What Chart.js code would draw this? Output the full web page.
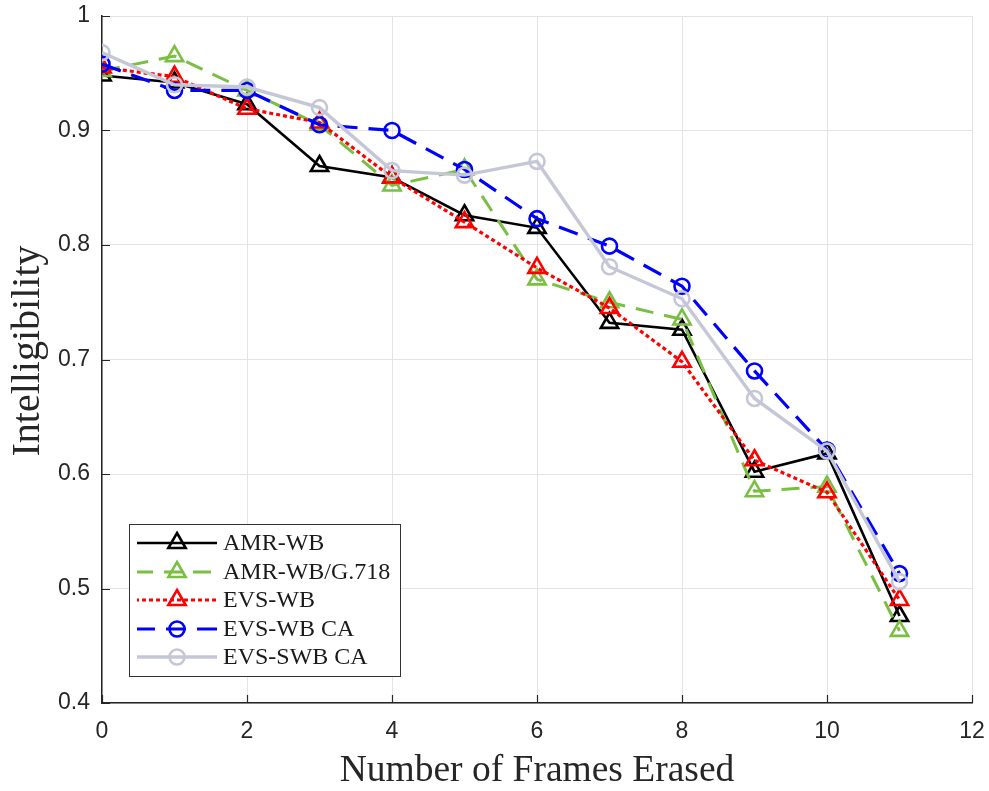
<!DOCTYPE html>
<html>
<head>
<meta charset="utf-8">
<script src="https://cdn.jsdelivr.net/npm/chart.js@4/dist/chart.umd.min.js"></script>
<style>
  html, body { margin: 0; padding: 0; background: #fff; }
  canvas { display: block; }
</style>
</head>
<body>
<canvas id="chart" width="989" height="791"></canvas>
<script>
// frames erased (x) and intelligibility per codec
const framesErased = [0, 1, 2, 3, 4, 5, 6, 7, 8, 9, 10, 11];
const amrWb = [0.948, 0.942, 0.923, 0.869, 0.859, 0.826, 0.815, 0.732, 0.726, 0.602, 0.618, 0.476];
const amrWbG718 = [0.952, 0.965, 0.935, 0.905, 0.852, 0.866, 0.770, 0.750, 0.735, 0.585, 0.589, 0.463];
const evsWb = [0.955, 0.947, 0.919, 0.907, 0.859, 0.820, 0.780, 0.745, 0.698, 0.612, 0.584, 0.490];
const evsWbCa = [0.958, 0.935, 0.935, 0.905, 0.900, 0.866, 0.823, 0.799, 0.764, 0.690, 0.621, 0.513];
const evsSwbCa = [0.968, 0.940, 0.938, 0.920, 0.865, 0.861, 0.873, 0.781, 0.753, 0.666, 0.620, 0.506];

const seriesNames = ["AMR-WB", "AMR-WB/G.718", "EVS-WB", "EVS-WB CA", "EVS-SWB CA"];
const xTicks = [0, 2, 4, 6, 8, 10, 12];
const yTicks = [0.4, 0.5, 0.6, 0.7, 0.8, 0.9, 1];

const xTitle = "Number of Frames Erased";
const yTitle = "Intelligibility";

const AXIS_COLOR = "#262626";
const GRID_COLOR = "#e4e4e4";
const SERIF = "'Liberation Serif', 'Times New Roman', serif";
const SANS = "'Liberation Sans', Arial, sans-serif";

function toPoints(values) {
  return values.map((v, i) => ({ x: framesErased[i], y: v }));
}

function makeSet(label, values, color, dash, style, radius, width, order) {
  return {
    label,
    data: toPoints(values),
    borderColor: color,
    backgroundColor: "transparent",
    borderWidth: width,
    borderDash: dash,
    pointStyle: style,
    pointRadius: radius,
    pointHoverRadius: radius,
    pointBorderColor: color,
    pointBackgroundColor: "transparent",
    pointBorderWidth: 2.6,
    tension: 0,
    order,
  };
}

const datasets = [
  makeSet(seriesNames[0], amrWb, "#000000", [], "triangle", 10, 2.6, 5),
  makeSet(seriesNames[1], amrWbG718, "#7abf43", [18, 11], "triangle", 10, 3, 4),
  makeSet(seriesNames[2], evsWb, "#ff0000", [4, 3], "triangle", 10, 3.2, 3),
  makeSet(seriesNames[3], evsWbCa, "#0000ff", [20, 11], "circle", 7.5, 3.2, 2),
  makeSet(seriesNames[4], evsSwbCa, "#c5c7d6", [], "circle", 7.5, 3.4, 1),
];

// inward tick marks on the left and bottom axes
const inwardTicks = {
  id: "inwardTicks",
  beforeDatasetsDraw(chart) {
    const { ctx, chartArea: a, scales } = chart;
    ctx.save();
    ctx.strokeStyle = AXIS_COLOR;
    ctx.lineWidth = 1.2;
    ctx.beginPath();
    xTicks.forEach((t) => {
      const px = Math.round(scales.x.getPixelForValue(t)) + 0.5;
      ctx.moveTo(px, a.bottom);
      ctx.lineTo(px, a.bottom - 8);
    });
    yTicks.forEach((t) => {
      const py = Math.round(scales.y.getPixelForValue(t)) + 0.5;
      ctx.moveTo(a.left, py);
      ctx.lineTo(a.left + 8, py);
    });
    ctx.stroke();
    ctx.restore();
  },
};

// axis titles in serif
const axisTitles = {
  id: "axisTitles",
  afterDraw(chart) {
    const { ctx, chartArea: a } = chart;
    ctx.save();
    ctx.fillStyle = AXIS_COLOR;
    ctx.textAlign = "center";
    ctx.textBaseline = "middle";
    ctx.font = "37.5px " + SERIF;
    ctx.fillText(xTitle, (a.left + a.right) / 2, 771);
    ctx.translate(28, 351);
    ctx.rotate(-Math.PI / 2);
    ctx.font = "40px " + SERIF;
    ctx.fillText(yTitle, 0, 0);
    ctx.restore();
  },
};

// boxed legend in the lower-left corner of the plot
const boxLegend = {
  id: "boxLegend",
  afterDraw(chart) {
    const { ctx } = chart;
    const box = { x: 129.5, y: 524.5, w: 271, h: 152 };
    const rowY = [543, 572, 600, 629, 657];
    ctx.save();
    ctx.fillStyle = "#ffffff";
    ctx.fillRect(box.x, box.y, box.w, box.h);
    ctx.strokeStyle = "#333333";
    ctx.lineWidth = 1;
    ctx.strokeRect(box.x, box.y, box.w, box.h);
    chart.data.datasets.forEach((ds, i) => {
      const y = rowY[i];
      ctx.strokeStyle = ds.borderColor;
      ctx.lineWidth = ds.borderWidth;
      ctx.setLineDash(ds.borderDash);
      ctx.lineDashOffset = ds.borderDash.length ? 2 : 0;
      ctx.beginPath();
      ctx.moveTo(137, y);
      ctx.lineTo(217, y);
      ctx.stroke();
      ctx.setLineDash([]);
      ctx.fillStyle = "transparent";
      ctx.lineWidth = ds.pointBorderWidth;
      Chart.helpers.drawPoint(ctx, {
        pointStyle: ds.pointStyle,
        radius: ds.pointRadius,
        rotation: 0,
        borderWidth: ds.pointBorderWidth,
      }, 177, y);
      ctx.fillStyle = "#1a1a1a";
      ctx.font = "24px " + SERIF;
      ctx.textAlign = "left";
      ctx.textBaseline = "middle";
      ctx.fillText(ds.label, 223, y + 1);
    });
    ctx.restore();
  },
};

new Chart(document.getElementById("chart"), {
  type: "line",
  data: { datasets },
  options: {
    responsive: false,
    animation: false,
    events: [],
    layout: { padding: { left: 0, right: 17, top: 16, bottom: 0 } },
    plugins: {
      legend: { display: false },
      tooltip: { enabled: false },
    },
    scales: {
      x: {
        type: "linear",
        min: 0,
        max: 12,
        afterBuildTicks: (scale) => {
          scale.ticks = xTicks.map((v) => ({ value: v }));
        },
        afterFit: (scale) => {
          scale.height = 88;
          scale.paddingLeft = 0;
          scale.paddingRight = 0;
        },
        grid: { color: GRID_COLOR, lineWidth: 1, drawTicks: false },
        border: { color: AXIS_COLOR, width: 1.5 },
        ticks: {
          padding: 15,
          color: AXIS_COLOR,
          font: { family: SANS, size: 23 },
          maxRotation: 0,
        },
      },
      y: {
        type: "linear",
        min: 0.4,
        max: 1,
        afterBuildTicks: (scale) => {
          scale.ticks = yTicks.map((v) => ({ value: v }));
        },
        afterFit: (scale) => {
          scale.width = 102;
          scale.paddingTop = 0;
          scale.paddingBottom = 0;
        },
        grid: { color: GRID_COLOR, lineWidth: 1, drawTicks: false },
        border: { color: AXIS_COLOR, width: 1.5 },
        ticks: {
          padding: 12,
          color: AXIS_COLOR,
          font: { family: SANS, size: 23 },
          callback: (v) => (v === 1 ? "1" : v.toFixed(1)),
        },
      },
    },
  },
  plugins: [inwardTicks, axisTitles, boxLegend],
});
</script>
</body>
</html>
